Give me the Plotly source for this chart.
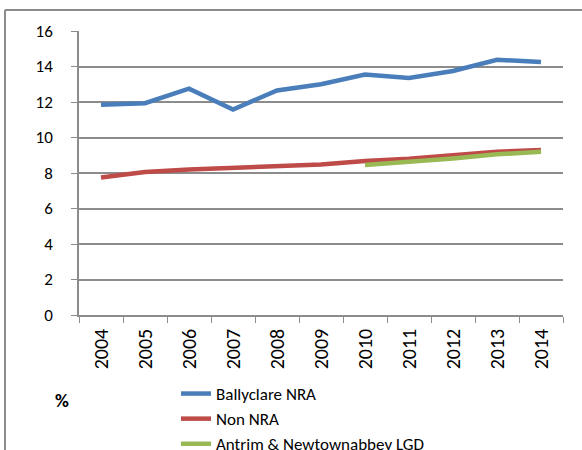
import plotly.graph_objects as go

years = ["2004", "2005", "2006", "2007", "2008", "2009", "2010", "2011", "2012", "2013", "2014"]
ballyclare = [11.85, 11.93, 12.75, 11.58, 12.65, 13.0, 13.55, 13.35, 13.75, 14.38, 14.25]
non_nra = [7.75, 8.05, 8.2, 8.3, 8.35, 8.48, 8.68, 8.8, 9.0, 9.2, 9.3]
lgd_years = ["2010", "2011", "2012", "2013", "2014"]
lgd = [8.45, 8.62, 8.82, 9.05, 9.2]

FONT = "Carlito, Calibri, Lato, sans-serif"
GRID = "#8c8c8c"
W, H = 582, 450
L, R, T, B = 79, 19, 31, 135
PW, PH = W - L - R, H - T - B


def px(x):
    return (x - L) / PW


def py(y):
    return (H - B - y) / PH


fig = go.Figure()
fig.add_trace(go.Scatter(x=years, y=ballyclare, mode="lines", name="Ballyclare NRA",
                         line=dict(color="#4a7ebb", width=4.5)))
fig.add_trace(go.Scatter(x=years, y=non_nra, mode="lines", name="Non NRA",
                         line=dict(color="#be4b48", width=4.5)))
fig.add_trace(go.Scatter(x=lgd_years, y=lgd, mode="lines", name="Antrim & Newtownabbey LGD",
                         line=dict(color="#98b954", width=4.5)))

fig.update_layout(
    width=W, height=H,
    margin=dict(l=L, r=R, t=T, b=B, autoexpand=False),
    paper_bgcolor="white", plot_bgcolor="white",
    font=dict(family=FONT, size=16, color="black"),
    showlegend=True,
    legend=dict(x=px(176), xanchor="left", y=py(376), yanchor="top",
                font=dict(family=FONT, size=17, color="black"),
                tracegroupgap=0, itemwidth=30, bgcolor="rgba(0,0,0,0)"),
    xaxis=dict(type="category", categoryorder="array", categoryarray=years,
               range=[-0.5, 10.5], automargin=False,
               tickangle=-90, tickson="boundaries", ticks="outside", ticklen=6,
               tickcolor=GRID, showline=True, linecolor=GRID, linewidth=1.5,
               ticklabelstandoff=4,
               showgrid=False, tickfont=dict(size=20, family=FONT)),
    yaxis=dict(range=[0, 16], dtick=2, ticks="outside", ticklen=6, tickcolor=GRID,
               automargin=False, ticklabelstandoff=15,
               showgrid=True, gridcolor=GRID, gridwidth=1.5, showline=True,
               linecolor=GRID, linewidth=1.5, zeroline=False,
               tickfont=dict(size=17, family=FONT)),
    shapes=[
        dict(type="line", xref="paper", yref="paper", x0=px(5), x1=px(5),
             y0=py(452), y1=py(10), line=dict(color="#8c8c8c", width=2)),
        dict(type="line", xref="paper", yref="paper", x0=px(5), x1=px(584),
             y0=py(10), y1=py(10), line=dict(color="#8c8c8c", width=2)),
    ],
    annotations=[
        dict(text="<b>%</b>", xref="paper", yref="paper", x=px(62), y=py(400),
             xanchor="center", yanchor="middle", showarrow=False,
             font=dict(size=19, family=FONT, color="black")),
    ],
)

fig.write_html("out.html", config={"displayModeBar": False},
               post_script="document.body.style.margin='0px';")
